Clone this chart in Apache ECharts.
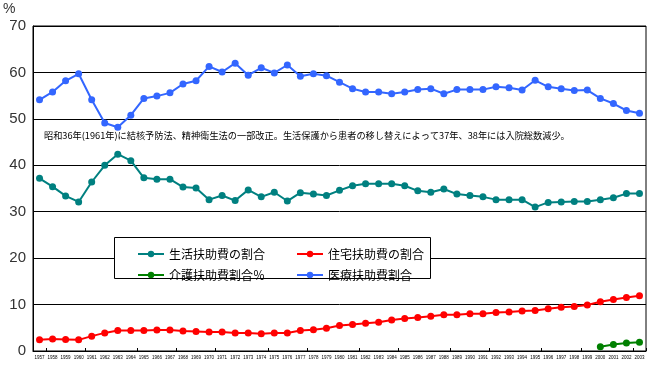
<!DOCTYPE html>
<html><head><meta charset="utf-8">
<script src="https://cdn.jsdelivr.net/npm/echarts@6/dist/echarts.min.js"></script>
<style>html,body{margin:0;padding:0;background:#fff}#c{width:648px;height:365px}</style>
</head><body><div id="c"></div>
<script>
var years = [];
for (var y = 1957; y <= 2003; y++) years.push(String(y));

var seikatsu = [37.2,35.4,33.4,32.1,36.4,40.0,42.4,41.0,37.3,37.0,37.0,35.3,35.1,32.6,33.5,32.4,34.7,33.2,34.2,32.3,34.1,33.8,33.5,34.6,35.6,36.0,36.0,36.0,35.6,34.5,34.2,34.9,33.8,33.5,33.2,32.6,32.6,32.6,31.0,32.0,32.1,32.2,32.2,32.6,33.0,33.9,33.9];
var jutaku = [2.4,2.6,2.5,2.4,3.2,3.9,4.4,4.4,4.4,4.5,4.5,4.3,4.2,4.1,4.1,3.9,3.9,3.7,3.9,3.9,4.4,4.6,4.9,5.5,5.7,6.0,6.2,6.7,7.0,7.2,7.5,7.8,7.8,8.0,8.0,8.3,8.4,8.6,8.7,9.1,9.4,9.6,9.9,10.6,11.1,11.5,11.9];
var kaigo = ['-','-','-','-','-','-','-','-','-','-','-','-','-','-','-','-','-','-','-','-','-','-','-','-','-','-','-','-','-','-','-','-','-','-','-','-','-','-','-','-','-','-','-',0.9,1.4,1.7,1.9];
var iryo = [54.1,55.8,58.2,59.7,54.1,49.1,48.2,50.8,54.4,54.9,55.6,57.5,58.2,61.3,60.1,62.0,59.4,61.0,59.9,61.6,59.2,59.7,59.3,57.9,56.5,55.8,55.8,55.4,55.8,56.3,56.5,55.4,56.3,56.3,56.3,56.9,56.7,56.2,58.3,56.9,56.5,56.1,56.2,54.4,53.3,51.8,51.2];

var names = ['生活扶助費の割合','住宅扶助費の割合','介護扶助費割合％','医療扶助費割合'];
var colors = ['#008080','#FF0000','#008000','#3366FF'];
var note = '昭和36年(1961年)に結核予防法、精神衛生法の一部改正。生活保護から患者の移し替えによって37年、38年には入院総数減少。';
var tickIdx = [1,4,8,11,14,18,21,25,28,32,35,39,42,46];

var jp = '"Noto Sans CJK JP", sans-serif';
function mk(name, data, color) {
  return {name: name, type: 'line', data: data, symbol: 'circle', symbolSize: 7,
    lineStyle: {color: color, width: 2}, itemStyle: {color: color}, animation: false};
}
var legendText = {fontSize: 12, color: '#000', fontFamily: jp, width: 93};
var chart = echarts.init(document.getElementById('c'));
chart.setOption({
  animation: false,
  color: colors,
  grid: {left: 33, right: 2, top: 26, bottom: 14, show: true, borderColor: '#000', borderWidth: 1},
  xAxis: {type: 'category', data: years, boundaryGap: true,
    axisLine: {lineStyle: {color: '#000', width: 1}},
    axisTick: {show: true, inside: true, length: 3, lineStyle: {color: '#000'},
      interval: function (i) { return tickIdx.indexOf(i) >= 0; }},
    axisLabel: {interval: 0, fontSize: 4.5, color: '#000', margin: 4, fontFamily: 'Liberation Sans'}},
  yAxis: {type: 'value', min: 0, max: 70, interval: 10,
    axisLine: {show: true, lineStyle: {color: '#000'}}, axisTick: {show: false},
    splitLine: {lineStyle: {color: '#000', width: 1}},
    axisLabel: {fontSize: 15, color: '#333', margin: 7, fontFamily: 'Liberation Sans'}},
  legend: [
    {data: [names[0], names[1]], left: 132, top: 243, itemWidth: 26, itemHeight: 8, itemGap: 31,
      textStyle: legendText, z: 6},
    {data: [names[2], names[3]], left: 132, top: 264, itemWidth: 26, itemHeight: 8, itemGap: 31,
      textStyle: legendText, z: 6}
  ],
  graphic: [
    {type: 'rect', shape: {x: 114.5, y: 237.5, width: 316, height: 41}, style: {fill: '#fff', stroke: '#000', lineWidth: 1}, z: 5},
    {type: 'text', left: 3, top: 2, style: {text: '%', fontSize: 14, fill: '#333', fontFamily: 'Liberation Sans'}},
    {type: 'text', left: 44, top: 131, style: {text: note, fontSize: 9.2, fill: '#000', fontFamily: jp}, z: 5}
  ],
  series: [mk(names[0], seikatsu, colors[0]), mk(names[1], jutaku, colors[1]), mk(names[2], kaigo, colors[2]), mk(names[3], iryo, colors[3])]
});
</script></body></html>
